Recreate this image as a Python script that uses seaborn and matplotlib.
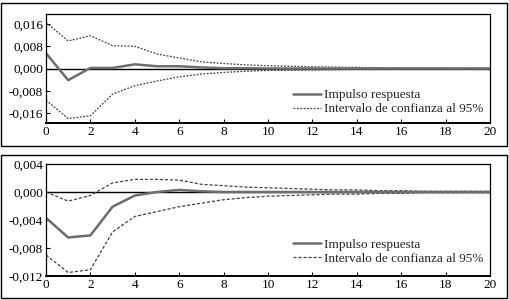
import pandas as pd
import matplotlib.pyplot as plt
import seaborn as sns
from matplotlib.patches import Rectangle
from matplotlib.ticker import FuncFormatter, MultipleLocator


# horizons 0..20
periods = list(range(21))

# panel 1
impulse_1 = [0.0055, -0.0042, 0.0002, 0.0002, 0.0015, 0.0008, 0.0008, 0.0004, 0.0001, 0.0001, 0.0000,
             0.0000, 0.0000, 0.0000, 0.0000, 0.0000, 0.0000, 0.0000, 0.0000, 0.0000, 0.0000]
upper_1 = [0.0166, 0.0099, 0.0118, 0.0082, 0.0080, 0.0052, 0.0038, 0.0024, 0.0018, 0.0013, 0.0010,
           0.0008, 0.0006, 0.0005, 0.0004, 0.0003, 0.0003, 0.0002, 0.0002, 0.0001, 0.0001]
lower_1 = [-0.0114, -0.0180, -0.0170, -0.0092, -0.0062, -0.0045, -0.0030, -0.0020, -0.0014, -0.0010, -0.0007,
           -0.0006, -0.0005, -0.0004, -0.0003, -0.0002, -0.0002, -0.0002, -0.0001, -0.0001, -0.0001]

# panel 2
impulse_2 = [-0.0037, -0.0065, -0.0062, -0.0021, -0.0005, 0.0000, 0.0003, 0.0001, 0.0000, 0.0000, 0.0000,
             0.0000, 0.0000, 0.0000, 0.0000, 0.0000, 0.0000, 0.0000, 0.0000, 0.0000, 0.0000]
upper_2 = [0.0000, -0.0013, -0.0005, 0.0013, 0.0018, 0.0018, 0.0017, 0.0011, 0.0009, 0.0007, 0.0006,
           0.0005, 0.0004, 0.0003, 0.0003, 0.0002, 0.0002, 0.0001, 0.0001, 0.0001, 0.0001]
lower_2 = [-0.0090, -0.0115, -0.0111, -0.0057, -0.0035, -0.0028, -0.0021, -0.0016, -0.0011, -0.0008, -0.0006,
           -0.0005, -0.0004, -0.0003, -0.0003, -0.0002, -0.0002, -0.0001, -0.0001, -0.0001, -0.0001]

y_ticks_1 = [-0.016, -0.008, 0.0, 0.008, 0.016]
y_ticks_2 = [-0.012, -0.008, -0.004, 0.0, 0.004]

label_imp = "Impulso respuesta"
label_ci = "Intervalo de confianza al 95%"


def comma_fmt(v, pos):
    return f"{v:.3f}".replace(".", ",").replace("-0,000", "0,000")


def draw_panel(ax, imp, up, lo, ylim, yticks, ci_dash, leg_anchor):
    df = pd.DataFrame({"t": periods, "imp": imp, "up": up, "lo": lo})
    ax.axhline(0, color="black", lw=1.0, zorder=1)
    sns.lineplot(data=df, x="t", y="up", ax=ax, color="#444444", lw=0.9,
                 linestyle=(0, ci_dash), label=label_ci)
    sns.lineplot(data=df, x="t", y="lo", ax=ax, color="#444444", lw=0.9,
                 linestyle=(0, ci_dash), label="_nolegend_")
    sns.lineplot(data=df, x="t", y="imp", ax=ax, color="#6e6e6e", lw=1.8,
                 label=label_imp)
    ax.set_xlim(0, 20)
    ax.set_ylim(*ylim)
    ax.set_xticks(range(0, 21, 2))
    ax.set_yticks(yticks)
    ax.yaxis.set_major_formatter(FuncFormatter(comma_fmt))
    ax.set_xlabel("")
    ax.set_ylabel("")
    ax.tick_params(direction="in", length=3, width=0.8, labelsize=9.5, pad=2, colors="black")
    for s in ax.spines.values():
        s.set_linewidth(0.9)
        s.set_color("black")
    ax.spines["bottom"].set_linewidth(1.4)
    # legend: impulse first, then interval
    h, l = ax.get_legend_handles_labels()
    order = [l.index(label_imp), l.index(label_ci)]
    ax.legend([h[i] for i in order], [l[i] for i in order], loc="lower right",
              bbox_to_anchor=leg_anchor, frameon=False, fontsize=9.5,
              handlelength=2.1, handletextpad=0.25, labelspacing=0.15,
              borderaxespad=0, borderpad=0)


sns.set_style("ticks")
plt.rcParams["font.family"] = ["Liberation Serif", "DejaVu Serif"]

fig = plt.figure(figsize=(5.09, 3.0), dpi=100)

# outer boxes around each panel
fig.patches.append(Rectangle((1 / 509, 1 - 146 / 300), 506 / 509, 143 / 300,
                             transform=fig.transFigure, fill=False, lw=1.0, ec="black"))
fig.patches.append(Rectangle((1 / 509, 1 - 298 / 300), 506 / 509, 143 / 300,
                             transform=fig.transFigure, fill=False, lw=1.0, ec="black"))

ax1 = fig.add_axes([46 / 509, 1 - 123 / 300, 444 / 509, 109 / 300])
ax2 = fig.add_axes([46 / 509, 1 - 276 / 300, 444 / 509, 112 / 300])

draw_panel(ax1, impulse_1, upper_1, lower_1, (-0.0196, 0.0196), y_ticks_1, (1.5, 1.2), (0.985, 0.07))
draw_panel(ax2, impulse_2, upper_2, lower_2, (-0.012, 0.004), y_ticks_2, (2.5, 1.5), (0.985, 0.1))

plt.savefig("out.png", dpi=100)
